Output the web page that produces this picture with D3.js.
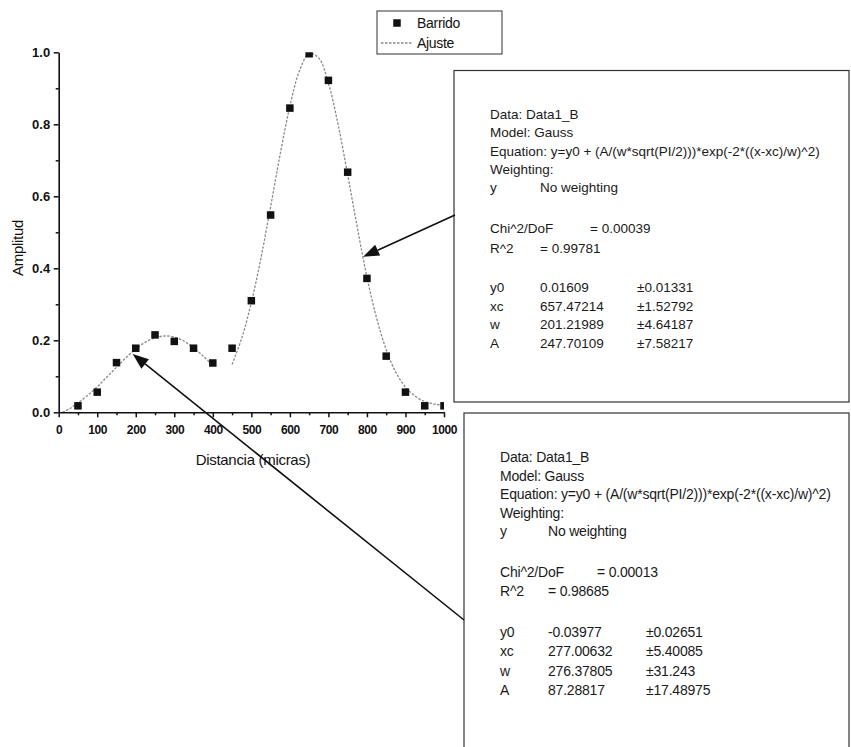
<!DOCTYPE html>
<html>
<head>
<meta charset="utf-8">
<script src="https://cdn.jsdelivr.net/npm/d3@7"></script>
<style>
  html, body { margin: 0; padding: 0; background: #fff; }
  svg { display: block; font-family: Arial, "Liberation Sans", sans-serif; }
</style>
</head>
<body>
<svg id="chart" width="851" height="747"></svg>
<script>
// ---------------- DATA ----------------
const xTicks = [0, 100, 200, 300, 400, 500, 600, 700, 800, 900, 1000];
const xMinorTicks = [50, 150, 250, 350, 450, 550, 650, 750, 850, 950];
const yTicks = [0.0, 0.2, 0.4, 0.6, 0.8, 1.0];
const yMinorTicks = [0.1, 0.3, 0.5, 0.7, 0.9];

// Barrido (measured points)
const barridoX = [50, 100, 150, 200, 250, 300, 350, 400, 450, 500, 550, 600, 650, 700, 750, 800, 850, 900, 950, 1000];
const barridoY = [0.018, 0.056, 0.138, 0.178, 0.215, 0.197, 0.178, 0.137, 0.178, 0.310, 0.548, 0.845, 0.996, 0.922, 0.667, 0.372, 0.156, 0.056, 0.018, 0.018];

// Ajuste (fit curves)
const ajusteLeftX = [10, 25, 50, 75, 100, 125, 150, 175, 200, 225, 250, 275, 300, 325, 350, 375, 400];
const ajusteLeftY = [0.000, 0.008, 0.026, 0.047, 0.071, 0.098, 0.125, 0.152, 0.176, 0.195, 0.207, 0.212, 0.209, 0.198, 0.179, 0.156, 0.130];
const ajusteRightX = [450, 475, 500, 525, 550, 575, 600, 625, 650, 675, 700, 725, 750, 775, 800, 825, 850, 875, 900, 925, 950, 975, 1000];
const ajusteRightY = [0.133, 0.206, 0.305, 0.429, 0.571, 0.718, 0.850, 0.949, 0.996, 0.984, 0.914, 0.800, 0.660, 0.513, 0.376, 0.262, 0.174, 0.111, 0.070, 0.045, 0.030, 0.023, 0.019];

const legendLabels = ["Barrido", "Ajuste"];
const axisTitles = { x: "Distancia (micras)", y: "Amplitud" };

// Fit reports
const reportHeader = ["Data: Data1_B", "Model: Gauss", "Equation: y=y0 + (A/(w*sqrt(PI/2)))*exp(-2*((x-xc)/w)^2)", "Weighting:"];
const weightingRow = ["y", "No weighting"];
const paramNames = ["y0", "xc", "w", "A"];

const fit1Chi = "= 0.00039";
const fit1R2 = "= 0.99781";
const fit1Values = ["0.01609", "657.47214", "201.21989", "247.70109"];
const fit1Errors = ["\u00b10.01331", "\u00b11.52792", "\u00b14.64187", "\u00b17.58217"];

const fit2Chi = "= 0.00013";
const fit2R2 = "= 0.98685";
const fit2Values = ["-0.03977", "277.00632", "276.37805", "87.28817"];
const fit2Errors = ["\u00b10.02651", "\u00b15.40085", "\u00b131.243", "\u00b117.48975"];

// arrow targets in data space
const arrow1Target = [790, 0.432];
const arrow2Target = [192, 0.162];

// ---------------- DRAWING ----------------
const svg = d3.select("#chart");
svg.append("rect").attr("width", 851).attr("height", 747).attr("fill", "#fff");

const x = d3.scaleLinear().domain([0, 1000]).range([58.7, 444]);
const y = d3.scaleLinear().domain([0, 1]).range([412.3, 52.3]);

// clip for plot contents
svg.append("defs").append("clipPath").attr("id", "plotclip")
  .append("rect").attr("x", x(0)).attr("y", y(1)).attr("width", x(1000) - x(0)).attr("height", y(0) - y(1));

const plot = svg.append("g").attr("clip-path", "url(#plotclip)");

const line = d3.line().x(d => x(d[0])).y(d => y(d[1])).curve(d3.curveCatmullRom);
const curveStyle = s => s.attr("fill", "none").attr("stroke", "#8a8a8a").attr("stroke-width", 1.3).attr("stroke-dasharray", "2.5,1.5");

plot.append("path").datum(d3.zip(ajusteLeftX, ajusteLeftY)).attr("d", line).call(curveStyle);
plot.append("path").datum(d3.zip(ajusteRightX, ajusteRightY)).attr("d", line).call(curveStyle);

const ms = 7.5;
plot.selectAll("rect.pt").data(d3.zip(barridoX, barridoY)).join("rect")
  .attr("class", "pt")
  .attr("x", d => x(d[0]) - ms / 2).attr("y", d => y(d[1]) - ms / 2)
  .attr("width", ms).attr("height", ms).attr("fill", "#111");

// axes
const axisStyle = g => {
  g.selectAll("path.domain").attr("stroke", "#111").attr("stroke-width", 1.6);
  g.selectAll(".tick line").attr("stroke", "#111").attr("stroke-width", 1.5);
  g.selectAll(".tick text").attr("fill", "#111").attr("font-weight", "bold").attr("font-size", 13)
    .attr("font-family", "Arial, 'Liberation Sans', sans-serif");
};

svg.append("g").attr("transform", `translate(0,${y(0)})`)
  .call(d3.axisBottom(x).tickValues(xTicks).tickSize(5).tickSizeOuter(0).tickPadding(8).tickFormat(d3.format("d")))
  .call(axisStyle)
  .call(g => g.selectAll(".tick text").attr("font-size", 12).attr("letter-spacing", -0.4));
svg.append("g").attr("transform", `translate(0,${y(0)})`)
  .call(d3.axisBottom(x).tickValues(xMinorTicks).tickSize(3).tickFormat(""))
  .call(axisStyle).call(g => g.select("path.domain").remove());

svg.append("g").attr("transform", `translate(${x(0)},0)`)
  .call(d3.axisLeft(y).tickValues(yTicks).tickSize(5).tickSizeOuter(0).tickPadding(3.5).tickFormat(d3.format(".1f")))
  .call(axisStyle);
svg.append("g").attr("transform", `translate(${x(0)},0)`)
  .call(d3.axisLeft(y).tickValues(yMinorTicks).tickSize(3).tickFormat(""))
  .call(axisStyle).call(g => g.select("path.domain").remove());

// axis titles
svg.append("text").attr("x", 253).attr("y", 465).attr("text-anchor", "middle")
  .attr("font-size", 15).attr("letter-spacing", -0.3).attr("fill", "#111").text(axisTitles.x);
svg.append("text").attr("transform", "translate(23,248) rotate(-90)").attr("text-anchor", "middle")
  .attr("font-size", 15).attr("letter-spacing", -0.3).attr("fill", "#111").text(axisTitles.y);

// legend
const leg = svg.append("g");
leg.append("rect").attr("x", 377).attr("y", 11).attr("width", 125).attr("height", 43)
  .attr("fill", "#fff").attr("stroke", "#444").attr("stroke-width", 1.1);
leg.append("rect").attr("x", 397 - ms / 2).attr("y", 23 - ms / 2).attr("width", ms).attr("height", ms).attr("fill", "#111");
leg.append("line").attr("x1", 381).attr("x2", 413).attr("y1", 43).attr("y2", 43).call(curveStyle);
leg.selectAll("text").data(legendLabels).join("text")
  .attr("x", 417).attr("y", (d, i) => [27.5, 48][i]).attr("font-size", 14).attr("letter-spacing", -0.3)
  .attr("fill", "#111").text(d => d);

// fit report boxes
function report(box, o) {
  const g = svg.append("g");
  g.append("rect").attr("x", box.x).attr("y", box.y).attr("width", box.w).attr("height", box.h)
    .attr("fill", "#fff").attr("stroke", "#333").attr("stroke-width", 1.2);
  const t = (tx, ty, s) => g.append("text").attr("x", tx).attr("y", ty).attr("font-size", o.fs)
    .attr("letter-spacing", o.ls).attr("fill", "#1a1a1a").text(s);
  reportHeader.forEach((s, i) => t(o.c0, o.rows[i], s));
  t(o.c0, o.rows[4], weightingRow[0]);
  t(o.c1, o.rows[4], weightingRow[1]);
  t(o.c0, o.chiY, "Chi^2/DoF");
  t(o.chiX, o.chiY, o.chi);
  t(o.c0, o.r2Y, "R^2");
  t(o.c1, o.r2Y, o.r2);
  paramNames.forEach((s, i) => {
    t(o.c0, o.pRows[i], s);
    t(o.c1, o.pRows[i], o.values[i]);
    t(o.c2, o.pRows[i], o.errors[i]);
  });
}

report({ x: 454, y: 70.5, w: 395, h: 331.5 }, {
  fs: 13.5, ls: 0, c0: 490, c1: 540, c2: 637, chiX: 590,
  rows: [119, 137.3, 155.6, 173.9, 192.2], chiY: 233, r2Y: 252.5,
  pRows: [292, 310.5, 329, 347.5], chi: fit1Chi, r2: fit1R2, values: fit1Values, errors: fit1Errors
});
report({ x: 464, y: 413, w: 385, h: 360 }, {
  fs: 14, ls: -0.2, c0: 500, c1: 548, c2: 646, chiX: 597,
  rows: [462, 480.5, 499, 517.5, 536], chiY: 577, r2Y: 596,
  pRows: [637, 656, 675.5, 695], chi: fit2Chi, r2: fit2R2, values: fit2Values, errors: fit2Errors
});

// arrows
function arrow(from, tip) {
  const [x0, y0] = from, [x1, y1] = tip;
  const ang = Math.atan2(y1 - y0, x1 - x0);
  const L = 16, Wd = 6;
  const bx = x1 - L * Math.cos(ang), by = y1 - L * Math.sin(ang);
  const px = -Math.sin(ang) * Wd, py = Math.cos(ang) * Wd;
  svg.append("line").attr("x1", x0).attr("y1", y0).attr("x2", bx).attr("y2", by)
    .attr("stroke", "#111").attr("stroke-width", 1.6);
  svg.append("path").attr("d", `M${x1},${y1}L${bx + px},${by + py}L${bx - px},${by - py}Z`).attr("fill", "#111");
}
arrow([455, 215], [x(arrow1Target[0]), y(arrow1Target[1])]);
arrow([464, 620], [x(arrow2Target[0]), y(arrow2Target[1])]);
</script>
</body>
</html>
